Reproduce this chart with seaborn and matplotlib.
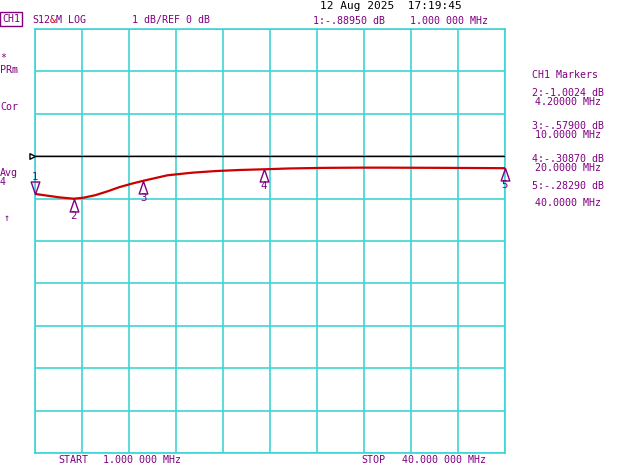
import numpy as np
import matplotlib
matplotlib.use("Agg")
import matplotlib.pyplot as plt
from matplotlib.path import Path
import seaborn as sns

# trace (MHz, dB)
freq_mhz = [1, 2, 3, 4.2, 5, 6, 7, 8, 9, 10, 12, 14, 16, 18, 20, 22, 25, 28, 30, 35, 40]
s12_db = [-0.8895, -0.93, -0.97, -1.0024, -0.98, -0.92, -0.83, -0.73, -0.65, -0.579,
          -0.45, -0.39, -0.35, -0.325, -0.3087, -0.29, -0.275, -0.27, -0.27, -0.275, -0.2829]

marker_ids = ["1", "2", "3", "4", "5"]
marker_freq = [1.0, 4.2, 10.0, 20.0, 40.0]
marker_db = [-0.8895, -1.0024, -0.579, -0.3087, -0.2829]

marker_lines = [
    ("2:-1.0024 dB", "4.20000 MHz"),
    ("3:-.57900 dB", "10.0000 MHz"),
    ("4:-.30870 dB", "20.0000 MHz"),
    ("5:-.28290 dB", "40.0000 MHz"),
]

start_mhz, stop_mhz = 1, 40
ref_db, db_per_div = 0, 1

PURPLE = "#800080"
CYAN = "#40d4d4"
RED = "#cc0000"
FS = 7.2
CHAR_W = 0.602 * FS * 100 / 72  # px per char, DejaVu Sans Mono

sns.set_style("white")
plt.rcParams["font.family"] = ["DejaVu Sans Mono", "DejaVu Sans"]

W, H = 640, 465
fig = plt.figure(figsize=(6.4, 4.65), dpi=100)
ax = fig.add_axes([35 / W, (H - 453) / H, 470 / W, 424 / H])

ax.set_xlim(start_mhz, stop_mhz)
ax.set_ylim(ref_db - 7 * db_per_div, ref_db + 3 * db_per_div)
ax.set_xticks(np.linspace(start_mhz, stop_mhz, 11))
ax.set_yticks(np.arange(-7, 4) * db_per_div)
ax.tick_params(length=0, labelbottom=False, labelleft=False)
ax.grid(True, color=CYAN, lw=1.2)
for s in ax.spines.values():
    s.set_color(CYAN)
    s.set_linewidth(1.2)

ax.axhline(ref_db, color="black", lw=1, zorder=3)
ref_tri = Path([(0, 0), (-1.2, 0.6), (-1.2, -0.6), (0, 0)])
ax.plot([start_mhz], [ref_db], marker=ref_tri, ms=8, mfc="white", mec="black",
        mew=1, clip_on=False, zorder=5)

sns.lineplot(x=freq_mhz, y=s12_db, ax=ax, color=RED, lw=1.6, zorder=4)

up_tri = Path([(0, 0), (-0.45, -1.3), (0.45, -1.3), (0, 0)])
down_tri = Path([(0, 0), (-0.45, 1.3), (0.45, 1.3), (0, 0)])
for i, (mid, mf, md) in enumerate(zip(marker_ids, marker_freq, marker_db)):
    if i == 0:
        ax.plot([mf], [md], marker=down_tri, ms=18, mfc="none", mec=PURPLE,
                mew=1, clip_on=False, zorder=6)
        ax.annotate(mid, (mf, md), xytext=(0, 8.5), textcoords="offset points",
                    ha="center", va="bottom", color=PURPLE, fontsize=FS + 0.5)
    else:
        ax.plot([mf], [md], marker=up_tri, ms=18, mfc="none", mec=PURPLE,
                mew=1, clip_on=False, zorder=6)
        ax.annotate(mid, (mf, md), xytext=(0, -8.5), textcoords="offset points",
                    ha="center", va="top", color=PURPLE, fontsize=FS + 0.5)


def txt(x, y, s, color=PURPLE, fs=FS, **kw):
    fig.text(x / W, 1 - y / H, s, color=color, fontsize=fs, va="center", **kw)


# header
txt(320, 6, "12 Aug 2025  17:19:45", color="black", fs=8)
txt(2, 19.5, "CH1", bbox=dict(boxstyle="square,pad=0.2", fc="none", ec=PURPLE, lw=1))
txt(32, 20, "S12")
txt(32 + 3 * CHAR_W, 20, "&", color=RED)
txt(32 + 4 * CHAR_W, 20, "M LOG")
txt(132, 20, "1 dB/REF 0 dB")
txt(313, 21, "1:-.88950 dB")
txt(410, 21, "1.000 000 MHz")

# left status column
txt(0, 58, "*")
txt(0, 70, "PRm")
txt(0, 107, "Cor")
txt(0, 173, "Avg")
txt(0, 182, "4")
txt(4, 218, "↑")

# marker table
txt(532, 75, "CH1 Markers")
table_y = [(93, 102), (126, 135), (159, 168), (186, 203)]
for (l1, l2), (y1, y2) in zip(marker_lines, table_y):
    txt(532, y1, l1)
    txt(535, y2, l2)

# footer
txt(58, 460, "START")
txt(103, 460, "1.000 000 MHz")
txt(361, 460, "STOP")
txt(402, 460, "40.000 000 MHz")

fig.savefig("out.png", dpi=100)
